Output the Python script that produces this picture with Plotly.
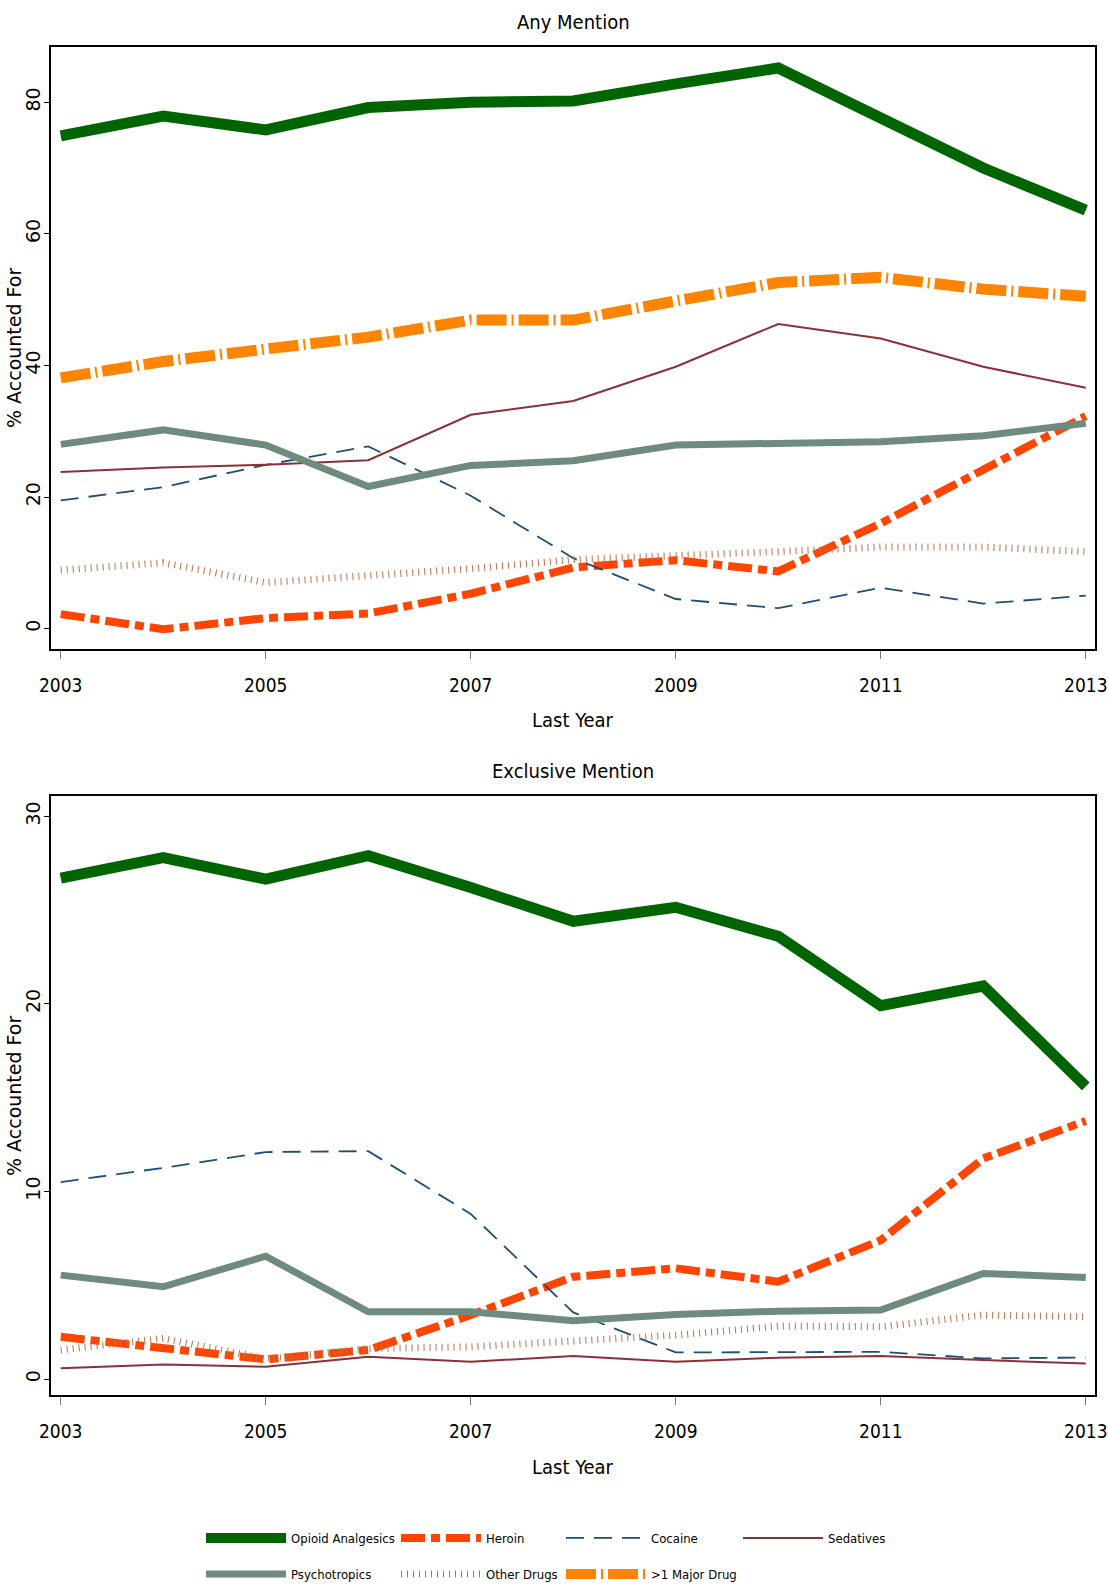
import plotly.graph_objects as go

W, H = 1108, 1587

years = list(range(2003, 2014))
xticks = [2003, 2005, 2007, 2009, 2011, 2013]

series_names = ["Opioid Analgesics", "Heroin", "Cocaine", "Sedatives",
                "Psychotropics", "Other Drugs", ">1 Major Drug"]

# Any Mention (top panel)
any_opioid = [74.9, 77.9, 75.8, 79.2, 80.0, 80.2, 82.8, 85.2, 77.6, 70.0, 63.6]
any_heroin = [2.2, -0.1, 1.6, 2.3, 5.3, 9.3, 10.4, 8.7, 16.0, 24.1, 32.3]
any_cocaine = [19.5, 21.5, 24.9, 27.7, 20.2, 10.7, 4.5, 3.1, 6.2, 3.8, 5.0]
any_sedatives = [23.8, 24.5, 24.9, 25.6, 32.5, 34.6, 39.8, 46.3, 44.1, 39.8, 36.6]
any_psycho = [28.0, 30.2, 27.9, 21.6, 24.8, 25.5, 27.9, 28.1, 28.4, 29.3, 31.2]
any_other = [8.9, 10.0, 7.0, 8.0, 9.1, 10.5, 11.0, 11.7, 12.4, 12.4, 11.7]
any_major = [38.1, 40.6, 42.5, 44.3, 46.9, 46.9, 49.8, 52.6, 53.4, 51.6, 50.5]

# Exclusive Mention (bottom panel)
exc_opioid = [26.7, 27.8, 26.65, 27.9, 26.2, 24.4, 25.15, 23.6, 19.9, 20.95, 15.6]
exc_heroin = [2.25, 1.62, 1.05, 1.55, 3.41, 5.45, 5.9, 5.19, 7.4, 11.76, 13.76]
exc_cocaine = [10.5, 11.26, 12.1, 12.15, 8.8, 3.55, 1.42, 1.42, 1.45, 1.1, 1.15]
exc_sedatives = [0.57, 0.78, 0.66, 1.19, 0.92, 1.23, 0.92, 1.14, 1.23, 1.01, 0.83]
exc_psycho = [5.54, 4.92, 6.55, 3.59, 3.59, 3.11, 3.44, 3.62, 3.68, 5.63, 5.42]
exc_other = [1.55, 2.17, 1.08, 1.63, 1.72, 1.99, 2.34, 2.82, 2.79, 3.41, 3.32]

styles = {
    "Opioid Analgesics": dict(color="#006400", width=11, dash="solid"),
    "Heroin": dict(color="#ff4500", width=8, dash="24px,6px,9px,6px"),
    "Cocaine": dict(color="#1f4e79", width=1.8, dash="18px,10px"),
    "Sedatives": dict(color="#8b3039", width=2, dash="solid"),
    "Psychotropics": dict(color="#6e8b7d", width=7, dash="solid"),
    "Other Drugs": dict(color="#b8714f", width=7, dash="1px,5px"),
    ">1 Major Drug": dict(color="#ff8400", width=11, dash="30px,5px,2px,5px"),
}

top_data = {
    "Opioid Analgesics": any_opioid, "Heroin": any_heroin, "Cocaine": any_cocaine,
    "Sedatives": any_sedatives, "Psychotropics": any_psycho, "Other Drugs": any_other,
    ">1 Major Drug": any_major,
}
bot_data = {
    "Opioid Analgesics": exc_opioid, "Heroin": exc_heroin, "Cocaine": exc_cocaine,
    "Sedatives": exc_sedatives, "Psychotropics": exc_psycho, "Other Drugs": exc_other,
}

def px_x(p):
    return p / W

def px_y(p):
    return 1 - p / H

fig = go.Figure()

legend_ids = ["legend", "legend2", "legend3", "legend4", "legend5", "legend6", "legend7"]
# legend placement (page pixel coordinates of each entry)
legend_pos = {
    "Opioid Analgesics": (201, 1538), "Heroin": (396, 1538),
    "Cocaine": (561, 1538), "Sedatives": (738, 1538),
    "Psychotropics": (201, 1574), "Other Drugs": (396, 1574),
    ">1 Major Drug": (561, 1574),
}

for i, name in enumerate(series_names):
    st = styles[name]
    fig.add_trace(go.Scatter(
        x=years, y=top_data[name], mode="lines", name=name,
        line=dict(color=st["color"], width=st["width"], dash=st["dash"]),
        xaxis="x", yaxis="y", legend=legend_ids[i], showlegend=True,
        hoverinfo="skip",
    ))
for i, name in enumerate(series_names):
    if name not in bot_data:
        continue
    st = styles[name]
    fig.add_trace(go.Scatter(
        x=years, y=bot_data[name], mode="lines", name=name,
        line=dict(color=st["color"], width=st["width"], dash=st["dash"]),
        xaxis="x2", yaxis="y2", showlegend=False, hoverinfo="skip",
    ))

narrow = "Liberation Sans Narrow, DejaVu Sans Condensed, Arial Narrow, sans-serif"
wide = "DejaVu Sans, Verdana, sans-serif"

xaxis_common = dict(
    range=[2002.905, 2013.09], tickvals=xticks, ticktext=[str(v) for v in xticks],
    ticks="outside", ticklen=8, tickcolor="#777777", tickwidth=1,
    ticklabelstandoff=10,
    showline=True, linecolor="black", linewidth=1.5, mirror=True,
    showgrid=False, zeroline=False,
    tickfont=dict(family=narrow, size=19, color="black"),
)
yaxis_common = dict(
    ticks="outside", ticklen=5, tickcolor="black", tickwidth=1,
    ticklabelstandoff=-3,
    showline=True, linecolor="black", linewidth=1.5, mirror=True,
    showgrid=False, zeroline=False, tickangle=-90,
    tickfont=dict(family=wide, size=19, color="black"),
)

layout = dict(
    width=W, height=H,
    margin=dict(l=0, r=0, t=0, b=0, autoexpand=False),
    paper_bgcolor="white", plot_bgcolor="white",
    xaxis=dict(domain=[px_x(51), px_x(1095)], anchor="y", **xaxis_common),
    yaxis=dict(domain=[px_y(649), px_y(47)], anchor="x", range=[-3.1, 88.4],
               tickvals=[0, 20, 40, 60, 80], **yaxis_common),
    xaxis2=dict(domain=[px_x(51), px_x(1095)], anchor="y2", **xaxis_common),
    yaxis2=dict(domain=[px_y(1395), px_y(796)], anchor="x2", range=[-0.85, 31.08],
                tickvals=[0, 10, 20, 30], **yaxis_common),
    showlegend=True,
)

for i, name in enumerate(series_names):
    lx, ly = legend_pos[name]
    layout[legend_ids[i]] = dict(
        x=px_x(lx), y=px_y(ly), xanchor="left", yanchor="middle",
        xref="paper", yref="paper", orientation="h",
        itemwidth=80, bgcolor="rgba(0,0,0,0)",
        font=dict(family=narrow, size=13, color="black"),
        itemclick=False, itemdoubleclick=False,
    )

fig.update_layout(**layout)

annotations = [
    dict(text="Any Mention", x=px_x(573), y=px_y(22)),
    dict(text="Exclusive Mention", x=px_x(573), y=px_y(771)),
    dict(text="Last Year", x=px_x(573), y=px_y(720)),
    dict(text="Last Year", x=px_x(573), y=px_y(1467)),
]
for a in annotations:
    fig.add_annotation(xref="paper", yref="paper", showarrow=False,
                       xanchor="center", yanchor="middle",
                       font=dict(family=narrow, size=20, color="black"), **a)
for yc in (348, 1096):
    fig.add_annotation(text="% Accounted For", xref="paper", yref="paper",
                       x=px_x(14), y=px_y(yc), showarrow=False, textangle=-90,
                       xanchor="center", yanchor="middle",
                       font=dict(family=wide, size=19, color="black"))

fig.write_html(
    "out.html",
    config={"displayModeBar": False},
    post_script="document.body.style.margin='0px';document.body.style.overflow='hidden';",
)
